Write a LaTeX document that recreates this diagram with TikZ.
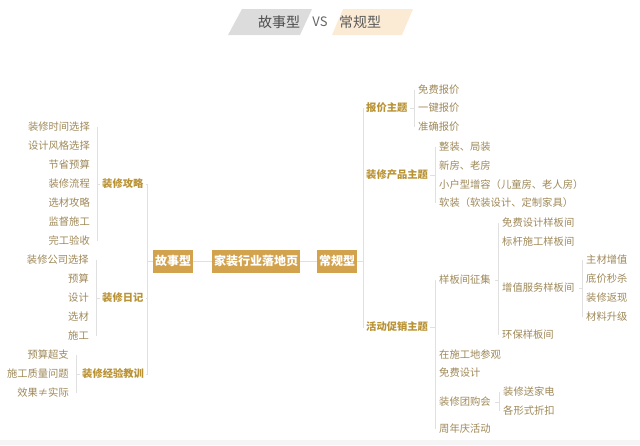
\documentclass[tikz,border=0pt]{standalone}
\usepackage{fontspec}
\setmainfont{Noto Sans CJK SC}
\usepackage{xcolor}
\usepackage{tikz}
\definecolor{leafc}{RGB}{158,136,88}
\definecolor{catc}{RGB}{185,146,52}
\definecolor{boxc}{RGB}{211,162,77}
\definecolor{linec}{RGB}{224,224,224}
\definecolor{tagg}{RGB}{220,220,220}
\definecolor{tagb}{RGB}{252,235,212}
\tikzset{
    mainbox/.style = {fill=boxc, text=white, font=\fontsize{12}{14}\selectfont\bfseries, inner xsep=2pt, inner ysep=0pt, minimum height=23pt, align=center},
    catnode/.style = {anchor=west, text=catc, font=\fontsize{10.3}{12}\selectfont\bfseries, inner xsep=2pt, inner ysep=1pt},
    leafl/.style = {anchor=east, text=leafc, font=\fontsize{10.3}{12}\selectfont, inner xsep=7pt, inner ysep=1pt},
    leafr/.style = {anchor=west, text=leafc, font=\fontsize{10.3}{12}\selectfont, inner xsep=4pt, inner ysep=1pt},
    hdtext/.style = {text=black!70, font=\fontsize{14}{16}\selectfont, inner sep=0pt},
}

\begin{document}
\begin{tikzpicture}[
	x=1pt, y=-1pt,
	link/.style = {draw=linec, line width=0.8pt}
]
\useasboundingbox (0,0) rectangle (640,445);
\fill[black!4] (0,440) rectangle (640,445);
% header
\fill[tagg] (228,35) -- (242,9) -- (312,9) -- (300,35) -- cycle;
\fill[tagb] (332,35) -- (343,9) -- (413,9) -- (402,35) -- cycle;
\node[hdtext] (hs) at (279,22) {故事型};
\node[hdtext, font=\fontsize{13}{15}\selectfont, text=black!60] (vs) at (320,22) {VS};
\node[hdtext, text=black!65] (hc) at (360,22) {常规型};
%
\node[mainbox] at (173,261) (gs) {故事型};
\node[mainbox] at (256,261) (jz) {家装行业落地页};
\node[mainbox] at (337,261) (cg) {常规型};
\draw[link] (gs) -- (jz);
\draw[link] (jz) -- (cg);
%
\node[catnode] at (100,184) (kp) {装修攻略};
\node[catnode] at (100,298) (rj) {装修日记};
\node[catnode] at (80,374) (jy) {装修经验教训};
%
\node[leafl] at (97,127) (k1) {装修时间选择};
\node[leafl] at (97,146) (k2) {设计风格选择};
\node[leafl] at (97,165) (k3) {节省预算};
\node[leafl] at (97,184) (k4) {装修流程};
\node[leafl] at (97,203) (k5) {选材攻略};
\node[leafl] at (97,222) (k6) {监督施工};
\node[leafl] at (97,241) (k7) {完工验收};
%
\node[leafl] at (96,260) (r1) {装修公司选择};
\node[leafl] at (96,279) (r2) {预算};
\node[leafl] at (96,298) (r3) {设计};
\node[leafl] at (96,317) (r4) {选材};
\node[leafl] at (96,336) (r5) {施工};
%
\node[leafl] at (76,355) (j1) {预算超支};
\node[leafl] at (76,374) (j2) {施工质量问题};
\node[leafl] at (76,393) (j3) {效果≠实际};
%
\draw[link] (k1.east) -- (k7.east);
\draw[link] (k4.east) -- (kp.west);
\draw[link] (r1.east) -- (r5.east);
\draw[link] (r3.east) -- (rj.west);
\draw[link] (j1.east) -- (j3.east);
\draw[link] (j2.east) -- (jy.west);
%
\draw[link] (gs.west) -- ++(-5,0) coordinate (gsb);
\draw[link] (gsb |- kp) -- (gsb |- jy);
\draw[link] (kp.east) -- (gsb |- kp);
\draw[link] (rj.east) -- (gsb |- rj);
\draw[link] (jy.east) -- (gsb |- jy);
%
\node[catnode] at (364,108) (bj) {报价主题};
\node[catnode] at (364,175) (cp) {装修产品主题};
\node[catnode] at (364,327) (hd) {活动促销主题};
%
\draw[link] (cg.east) -- ++(6,0) coordinate (cgb);
\draw[link] (cgb |- bj) -- (cgb |- hd);
\draw[link] (cgb |- bj) -- (bj.west);
\draw[link] (cgb |- cp) -- (cp.west);
\draw[link] (cgb |- hd) -- (hd.west);
%
\node[leafr] at (414,90) (b1) {免费报价};
\node[leafr] at (414,108) (b2) {一键报价};
\node[leafr] at (414,127) (b3) {准确报价};
\draw[link] (b1.west) -- (b3.west);
\draw[link] (bj.east) -- (b2.west);
%
\node[leafr] at (435,147) (p1) {整装、局装};
\node[leafr] at (435,166) (p2) {新房、老房};
\node[leafr] at (435,185) (p3) {小户型增容（儿童房、老人房）};
\node[leafr] at (435,203) (p4) {软装（软装设计、定制家具）};
\draw[link] (p1.west) -- (p4.west);
\draw[link] (cp.east) -- (p1.west |- cp);
%
\node[leafr] at (435,280) (h1) {样板间征集};
\node[leafr] at (435,355) (h2) {在施工地参观};
\node[leafr] at (435,373) (h3) {免费设计};
\node[leafr] at (435,402) (h4) {装修团购会};
\node[leafr] at (435,429) (h5) {周年庆活动};
\draw[link] (h1.west) -- (h5.west);
\draw[link] (hd.east) -- (h1.west |- hd);
%
\node[leafr] at (498,223) (s1) {免费设计样板间};
\node[leafr] at (498,242) (s2) {标杆施工样板间};
\node[leafr] at (498,288) (s3) {增值服务样板间};
\node[leafr] at (498,335) (s4) {环保样板间};
\draw[link] (s1.west) -- (s4.west);
\draw[link] (h1.east) -- (s1.west |- h1);
%
\node[leafr] at (582,260) (z1) {主材增值};
\node[leafr] at (582,279) (z2) {底价秒杀};
\node[leafr] at (582,298) (z3) {装修返现};
\node[leafr] at (582,317) (z4) {材料升级};
\draw[link] (z1.west) -- (z4.west);
\draw[link] (s3.east) -- (z1.west |- s3);
%
\node[leafr] at (499,392) (t1) {装修送家电};
\node[leafr] at (499,411) (t2) {各形式折扣};
\draw[link] (t1.west) -- (t2.west);
\draw[link] (h4.east) -- (t1.west |- h4);
\end{tikzpicture}
\end{document}
